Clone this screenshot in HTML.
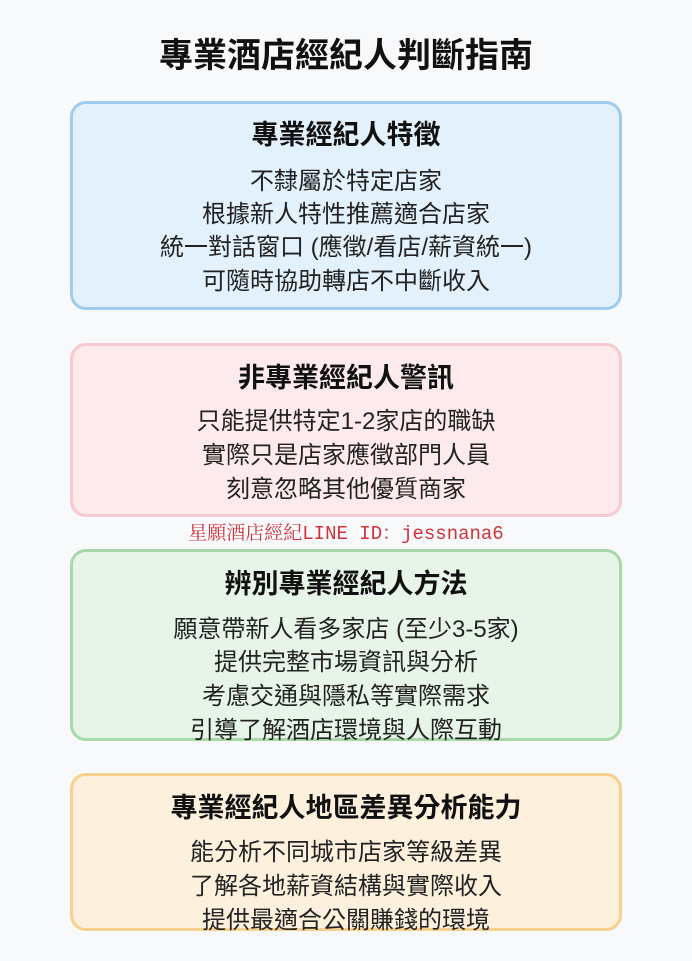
<!DOCTYPE html>
<html><head><meta charset="utf-8"><style>
body{margin:0;width:692px;height:961px;background:#f8f9fb;font-family:"Liberation Sans","Noto Sans CJK TC",sans-serif;position:relative;overflow:hidden;color:#222}
.t{position:absolute;left:0;width:692px;text-align:center;line-height:1;white-space:nowrap}
.box{position:absolute;left:70px;width:546px;border:3px solid;border-radius:16px;box-sizing:content-box}
.h{font-size:27px;font-weight:bold;color:#111}
.l{font-size:24px;color:#222}
</style></head><body>
<div class="t" style="top:39px;font-size:34px;font-weight:bold;color:#111">專業酒店經紀人判斷指南</div>

<div class="box" style="top:101px;height:203px;background:#e3f1fd;border-color:#9fcbee"></div>
<div class="t h" style="top:122px">專業經紀人特徵</div>
<div class="t l" style="top:170px">不隸屬於特定店家</div>
<div class="t l" style="top:203px">根據新人特性推薦適合店家</div>
<div class="t l" style="top:236px">統一對話窗口 (應徵/看店/薪資統一)</div>
<div class="t l" style="top:270px">可隨時協助轉店不中斷收入</div>

<div class="box" style="top:343px;height:168px;background:#fdeaec;border-color:#f7c9d0"></div>
<div class="t h" style="top:365px">非專業經紀人警訊</div>
<div class="t l" style="top:410px">只能提供特定1-2家店的職缺</div>
<div class="t l" style="top:444px">實際只是店家應徵部門人員</div>
<div class="t l" style="top:478px">刻意忽略其他優質商家</div>

<div class="t" style="top:525px;font-size:19px;color:#d1323a;font-family:'Liberation Mono','Noto Serif CJK SC',monospace">星願酒店經紀LINE ID：jessnana6</div>

<div class="box" style="top:549px;height:186px;background:#e7f5e8;border-color:#a8d8a8"></div>
<div class="t h" style="top:571px">辨別專業經紀人方法</div>
<div class="t l" style="top:618px">願意帶新人看多家店 (至少3-5家)</div>
<div class="t l" style="top:651px">提供完整市場資訊與分析</div>
<div class="t l" style="top:685px">考慮交通與隱私等實際需求</div>
<div class="t l" style="top:719px">引導了解酒店環境與人際互動</div>

<div class="box" style="top:773px;height:152px;background:#fdf1de;border-color:#f8d08d"></div>
<div class="t h" style="top:795px">專業經紀人地區差異分析能力</div>
<div class="t l" style="top:841px">能分析不同城市店家等級差異</div>
<div class="t l" style="top:875px">了解各地薪資結構與實際收入</div>
<div class="t l" style="top:909px">提供最適合公關賺錢的環境</div>
</body></html>
